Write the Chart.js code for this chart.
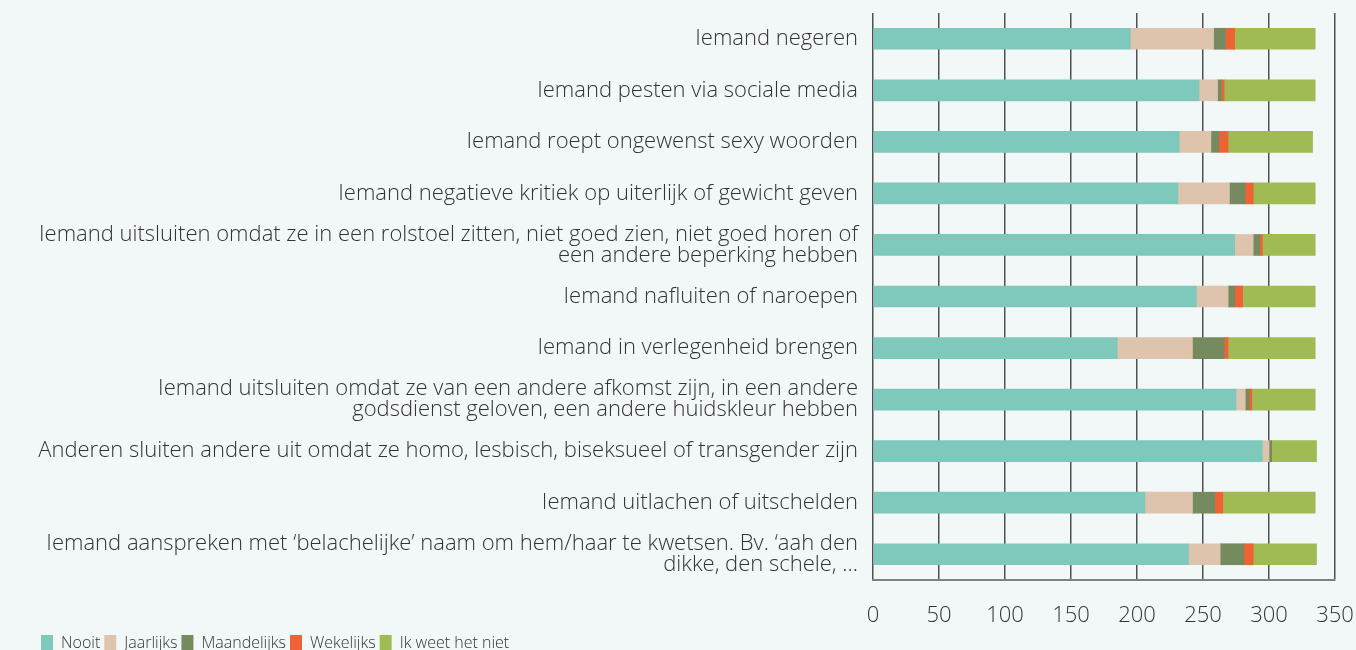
<!DOCTYPE html>
<html>
<head>
<meta charset="utf-8">
<script src="https://cdn.jsdelivr.net/npm/chart.js@4"></script>
<style>
    html, body { margin: 0; padding: 0; background: #f2f7f7; overflow: hidden; }
    #wrap { width: 1356px; height: 662px; }
</style>
</head>
<body>
<div id="wrap"><canvas id="chart"></canvas></div>
<script>
// Categorieën (van boven naar beneden)
const categories = [
    'Iemand negeren',
    'Iemand pesten via sociale media',
    'Iemand roept ongewenst sexy woorden',
    'Iemand negatieve kritiek op uiterlijk of gewicht geven',
    ['Iemand uitsluiten omdat ze in een rolstoel zitten, niet goed zien, niet goed horen of', 'een andere beperking hebben'],
    'Iemand nafluiten of naroepen',
    'Iemand in verlegenheid brengen',
    ['Iemand uitsluiten omdat ze van een andere afkomst zijn, in een andere', 'godsdienst geloven, een andere huidskleur hebben'],
    'Anderen sluiten andere uit omdat ze homo, lesbisch, biseksueel of transgender zijn',
    'Iemand uitlachen of uitschelden',
    ['Iemand aanspreken met \u2018belachelijke\u2019 naam om hem/haar te kwetsen. Bv. \u2018aah den', 'dikke, den schele, ...']
];

const nooit       = [195, 247, 232, 231, 274, 245, 185, 275, 295, 206, 239];
const jaarlijks   = [63, 14, 24, 39, 14, 24, 57, 7, 5, 36, 24];
const maandelijks = [9, 3, 6, 12, 5, 5, 24, 3, 2, 17, 18];
const wekelijks   = [7, 2, 7, 6, 2, 6, 3, 2, 0, 6, 7];
const weetNiet    = [61, 69, 64, 47, 40, 55, 66, 48, 34, 70, 48];

const xTicks = [0, 50, 100, 150, 200, 250, 300, 350];

const seriesNames = ['Nooit', 'Jaarlijks', 'Maandelijks', 'Wekelijks', 'Ik weet het niet'];
const seriesColors = ['#7fc8bc', '#dfc4ad', '#768a5f', '#ee6236', '#a0bb54'];

const textColor = '#333333';
const labelFont = { family: 'Open Sans', size: 22, weight: 300, lineHeight: 0.96 };
const tickFont = { family: 'Open Sans', size: 22, weight: 300 };

const datasets = [nooit, jaarlijks, maandelijks, wekelijks, weetNiet].map((data, i) => ({
    label: seriesNames[i],
    data: data,
    backgroundColor: seriesColors[i],
    borderWidth: 0,
    barThickness: 21
}));

new Chart(document.getElementById('chart'), {
    type: 'bar',
    data: { labels: categories, datasets: datasets },
    options: {
        indexAxis: 'y',
        responsive: true,
        maintainAspectRatio: false,
        animation: false,
        layout: { padding: { top: 13, right: 21, left: 37, bottom: 0 } },
        plugins: {
            tooltip: { enabled: false },
            legend: {
                position: 'bottom',
                align: 'start',
                labels: {
                    color: textColor,
                    font: { family: 'Open Sans', size: 16, weight: 300 },
                    boxWidth: 12,
                    boxHeight: 17,
                    padding: 4
                }
            }
        },
        scales: {
            x: {
                stacked: true,
                min: 0,
                max: 350,
                afterBuildTicks: axis => { axis.ticks = xTicks.map(v => ({ value: v })); },
                grid: { color: '#505050', lineWidth: 1.5, drawTicks: false },
                border: { display: true, color: '#808080', width: 2 },
                ticks: { color: textColor, font: tickFont, padding: 23 },
                afterFit: axis => {
                    axis.paddingLeft = 0;
                    axis.paddingRight = 0;
                    axis.height = 51;
                }
            },
            y: {
                stacked: true,
                grid: { display: false },
                border: { display: false },
                ticks: { color: textColor, font: labelFont, padding: 7, autoSkip: false },
                afterFit: axis => {
                    axis.width = 836;
                    axis.paddingTop = 0;
                    axis.paddingBottom = 0;
                }
            }
        }
    }
});
</script>
</body>
</html>
